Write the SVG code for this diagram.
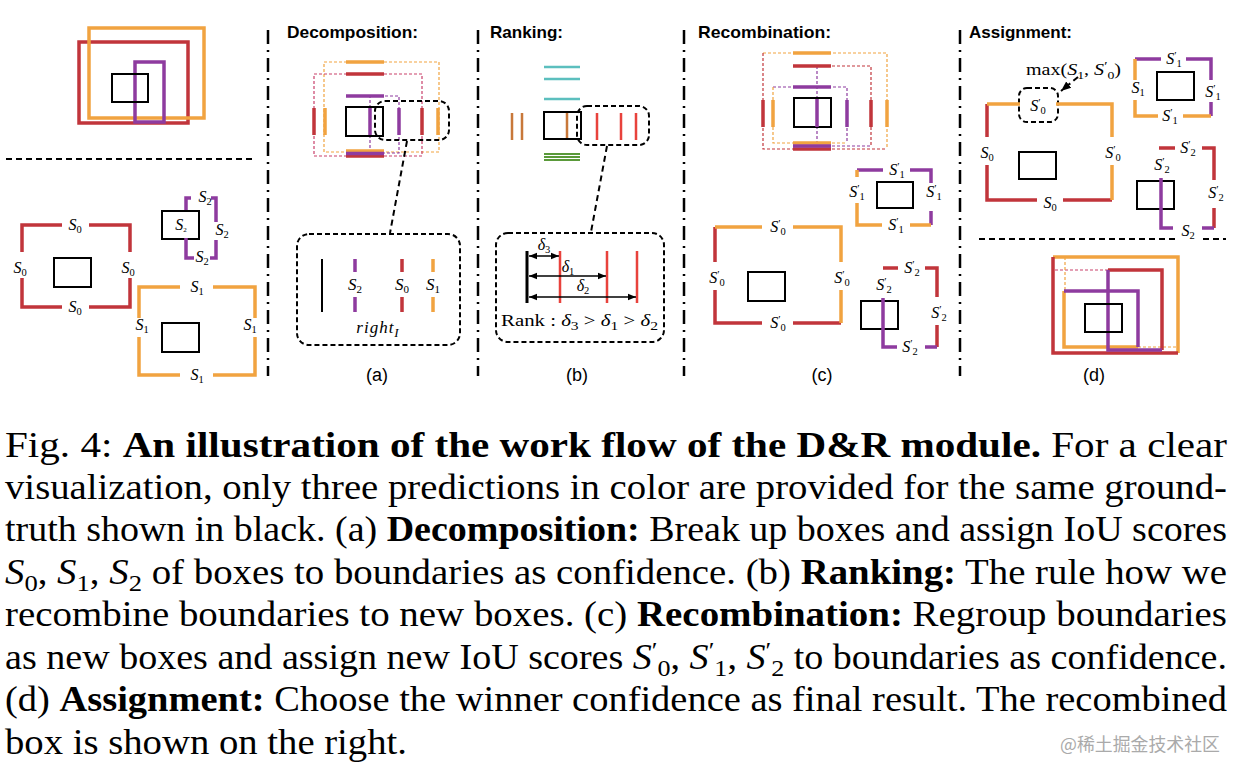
<svg xmlns="http://www.w3.org/2000/svg" width="1240" height="776" viewBox="0 0 1240 776">
<style>
.s{fill:none;stroke-width:3.5;stroke-linecap:butt;stroke-linejoin:miter}
.r{stroke:#c1353b}.o{stroke:#f1a340}.p{stroke:#8e3b9f}
.gt{fill:none;stroke:#000;stroke-width:2}
.dl{fill:none;stroke-width:1.2;stroke-dasharray:3 2}
.pk{stroke:#c9406a}
.co{fill:none;stroke:#000;stroke-width:2;stroke-dasharray:5 3}
.sep{fill:none;stroke:#000;stroke-width:2.5;stroke-dasharray:14 6 2 6}
.hd{fill:none;stroke:#000;stroke-width:2;stroke-dasharray:6 4}
.lb{font-family:"Liberation Serif",serif;font-size:16px;fill:#000}
.lb2{font-family:"Liberation Serif",serif;font-size:17px;fill:#000}
.i{font-style:italic}
.n{font-style:normal}
.sb{font-size:10.5px}
.sb2{font-size:11px}
.sp{font-size:11px}
.ti{font-family:"Liberation Sans",Arial,sans-serif;font-weight:bold;font-size:17px;fill:#000}
.pl{font-family:"Liberation Sans",Arial,sans-serif;font-size:18px;fill:#000}
.cap{font-family:"Liberation Serif",serif;font-size:35px;fill:#000}
.b{font-weight:bold}
.cs{font-size:24px}
.tl{stroke:#5cbfbe;stroke-width:2.5}
.br{stroke:#c8783a;stroke-width:2.5}
.rd{stroke:#e8423c;stroke-width:2.5}
.gn{stroke:#5a9a3a;stroke-width:2}
.ar{stroke:#000;stroke-width:1.5;marker-start:url(#ah);marker-end:url(#ah)}
</style>
<defs>
<marker id="ah" viewBox="0 0 10 10" refX="10" refY="5" markerWidth="8" markerHeight="8" markerUnits="userSpaceOnUse" orient="auto-start-reverse"><path d="M0,1 L10,5 L0,9 z" fill="#000"/></marker>
<marker id="ah2" viewBox="0 0 10 10" refX="10" refY="5" markerWidth="10" markerHeight="10" markerUnits="userSpaceOnUse" orient="auto"><path d="M0,1 L10,5 L0,9 z" fill="#000"/></marker>
</defs>
<rect width="1240" height="776" fill="#fff"/>

<g id="separators">
<line class="sep" x1="268" y1="30" x2="268" y2="376"/>
<line class="sep" x1="478" y1="30" x2="478" y2="376"/>
<line class="sep" x1="684" y1="30" x2="684" y2="376"/>
<line class="sep" x1="960" y1="30" x2="960" y2="376"/>
<line class="hd" x1="6" y1="159" x2="252" y2="159"/>
<path class="hd" d="M979 239 H1175 M1203 239 H1226"/>
</g>

<g id="input-boxes">
<rect class="s r" x="79" y="42" width="109" height="81"/>
<rect class="s o" x="89" y="28" width="115" height="90"/>
<rect class="s p" x="135" y="62" width="29" height="60"/>
<rect class="gt" x="112" y="74" width="36" height="28"/>
</g>

<g id="box-s0">
<rect class="gt" x="54" y="258" width="37" height="29"/>
<path class="s r" d="M62 225 H22 V252 M89 225 H130 V252 M22 278 V307 H62 M89 307 H130 V278"/>
<text class="lb" x="75" y="230" text-anchor="middle"><tspan class="i">S</tspan><tspan class="sb" dy="3">0</tspan></text>
<text class="lb" x="20" y="273" text-anchor="middle"><tspan class="i">S</tspan><tspan class="sb" dy="3">0</tspan></text>
<text class="lb" x="128" y="273" text-anchor="middle"><tspan class="i">S</tspan><tspan class="sb" dy="3">0</tspan></text>
<text class="lb" x="75" y="312" text-anchor="middle"><tspan class="i">S</tspan><tspan class="sb" dy="3">0</tspan></text>
</g>

<g id="box-s2">
<rect class="gt" x="162" y="211" width="37" height="28"/>
<path class="s p" d="M191 198 H186 V210 M211 198 H216 V222 M216 240 V258 H210 M194 258 H186 V238"/>
<text class="lb" x="205" y="202" text-anchor="middle"><tspan class="i">S</tspan><tspan class="sb" dy="3">2</tspan></text>
<text class="lb" x="222" y="235" text-anchor="middle"><tspan class="i">S</tspan><tspan class="sb" dy="3">2</tspan></text>
<text class="lb" x="202" y="262" text-anchor="middle"><tspan class="i">S</tspan><tspan class="sb" dy="3">2</tspan></text>
<text class="lb" x="181" y="230" text-anchor="middle" font-size="10"><tspan class="i">S</tspan><tspan font-size="7" dy="2">2</tspan></text>
</g>

<g id="box-s1">
<rect class="gt" x="162" y="323" width="37" height="29"/>
<path class="s o" d="M180 287 H139 V318 M213 287 H255 V318 M139 337 V375 H180 M213 375 H255 V337"/>
<text class="lb" x="197" y="292" text-anchor="middle"><tspan class="i">S</tspan><tspan class="sb" dy="3">1</tspan></text>
<text class="lb" x="142" y="330" text-anchor="middle"><tspan class="i">S</tspan><tspan class="sb" dy="3">1</tspan></text>
<text class="lb" x="250" y="330" text-anchor="middle"><tspan class="i">S</tspan><tspan class="sb" dy="3">1</tspan></text>
<text class="lb" x="197" y="380" text-anchor="middle"><tspan class="i">S</tspan><tspan class="sb" dy="3">1</tspan></text>
</g>

<g id="decomposition">
<text class="ti" x="287" y="38" textLength="131" lengthAdjust="spacingAndGlyphs">Decomposition:</text>
<rect class="dl o" x="324" y="62" width="115" height="90"/>
<rect class="dl pk" x="314" y="74" width="108" height="82"/>
<rect class="dl p" x="370" y="96" width="29" height="57"/>
<path class="s o" d="M346 62 H384 M346 151 H384 M325 108 V135 M438 108 V135" stroke-width="3"/>
<path class="s r" d="M346 74 H384 M346 156 H384 M314 108 V135 M422 108 V135" stroke-width="3"/>
<path class="s p" d="M346 96 H384 M346 153.5 H384 M370 108 V135 M399 108 V135" stroke-width="3"/>
<rect class="gt" x="346" y="107" width="37" height="29"/>
<rect class="co" x="375" y="101" width="74" height="39" rx="10"/>
</g>

<g id="decomposition-detail">
<rect class="co" x="297" y="234" width="163" height="111" rx="12"/>
<line x1="322" y1="259" x2="322" y2="312" stroke="#000" stroke-width="2"/>
<path class="s p" d="M355 259 V272 M355 297 V312" stroke-width="2.5"/>
<path class="s r" d="M402 259 V272 M402 297 V312" stroke-width="2.5"/>
<path class="s o" d="M433 259 V272 M433 297 V312" stroke-width="2.5"/>
<text class="lb2" x="355" y="290" text-anchor="middle"><tspan class="i">S</tspan><tspan class="sb2" dy="3">2</tspan></text>
<text class="lb2" x="402" y="290" text-anchor="middle"><tspan class="i">S</tspan><tspan class="sb2" dy="3">0</tspan></text>
<text class="lb2" x="433" y="290" text-anchor="middle"><tspan class="i">S</tspan><tspan class="sb2" dy="3">1</tspan></text>
<text class="lb2" x="378" y="333" text-anchor="middle" font-size="20" letter-spacing="1"><tspan class="i">right</tspan><tspan class="i" font-size="13" dy="4">I</tspan></text>
<text class="pl" x="377" y="381" text-anchor="middle">(a)</text>
</g>

<g id="ranking">
<text class="ti" x="490" y="38" textLength="73" lengthAdjust="spacingAndGlyphs">Ranking:</text>
<path class="tl" d="M544 67 H580 M544 79 H580 M544 99 H580"/>
<path class="br" d="M512 113 V140 M522 113 V140 M567 113 V140"/>
<rect class="gt" x="544" y="112" width="37" height="27"/>
<path class="rd" d="M597 113 V140 M621 113 V140 M636 113 V140"/>
<path class="gn" d="M544 154 H580 M544 157 H580 M544 160 H580"/>
<rect class="co" x="577" y="106" width="72" height="39" rx="10"/>
</g>

<g id="ranking-detail">
<rect class="co" x="496" y="233" width="168" height="109" rx="12"/>
<line x1="527" y1="251" x2="527" y2="303" stroke="#000" stroke-width="3"/>
<path class="rd" d="M560 251 V303 M607 251 V303 M637 251 V303"/>
<line class="ar" x1="529" y1="256" x2="559" y2="256"/>
<line class="ar" x1="529" y1="276" x2="606" y2="276"/>
<line class="ar" x1="529" y1="297" x2="636" y2="297"/>
<text class="lb i" x="544" y="250" text-anchor="middle">δ<tspan class="sb n" dy="3">3</tspan></text>
<text class="lb i" x="568" y="272" text-anchor="middle">δ<tspan class="sb n" dy="3">1</tspan></text>
<text class="lb i" x="583" y="291" text-anchor="middle">δ<tspan class="sb n" dy="3">2</tspan></text>
<text class="lb" x="501" y="326" font-size="18" textLength="157" lengthAdjust="spacingAndGlyphs">Rank : <tspan class="i">δ</tspan><tspan font-size="12" dy="4">3</tspan><tspan dy="-4"> &gt; </tspan><tspan class="i">δ</tspan><tspan font-size="12" dy="4">1</tspan><tspan dy="-4"> &gt; </tspan><tspan class="i">δ</tspan><tspan font-size="12" dy="4">2</tspan></text>
<text class="pl" x="577" y="381" text-anchor="middle">(b)</text>
</g>

<g id="recombination">
<text class="ti" x="698" y="38" textLength="133" lengthAdjust="spacingAndGlyphs">Recombination:</text>
<path class="dl o" d="M763 53 H887 V149"/>
<path class="dl r" d="M763 53 V149 H887"/>
<path class="dl p" d="M773 87 H847 V143"/>
<path class="dl o" d="M773 87 V143 H847"/>
<path class="dl r" d="M817 66 H871 V146"/>
<path class="dl p" d="M817 66 V146 H871"/>
<path class="s o" d="M793 53 H831 M793 143 H831 M773 100 V127 M887 100 V127" stroke-width="3"/>
<path class="s r" d="M793 66 H831 M793 149 H831 M763 100 V127 M871 100 V127" stroke-width="3"/>
<path class="s p" d="M793 87 H831 M793 146 H831 M847 100 V127" stroke-width="3"/>
<rect class="gt" x="794" y="98" width="37" height="29"/>
<path class="s p" d="M817 99 V127" stroke-width="2.5"/>
</g>

<g id="box-s1-prime">
<rect class="gt" x="877" y="182" width="36" height="26"/>
<path class="s p" d="M857 170 H883 M910 170 H931 V183 M931 211 V225"/>
<path class="s o" d="M857 170 V177 M857 203 V225 H882 M910 225 H931"/>
<text class="lb" x="897" y="175" text-anchor="middle"><tspan class="i">S</tspan><tspan class="sp" dy="-5">′</tspan><tspan class="sb" dy="8">1</tspan></text>
<text class="lb" x="857" y="197" text-anchor="middle"><tspan class="i">S</tspan><tspan class="sp" dy="-5">′</tspan><tspan class="sb" dy="8">1</tspan></text>
<text class="lb" x="934" y="197" text-anchor="middle"><tspan class="i">S</tspan><tspan class="sp" dy="-5">′</tspan><tspan class="sb" dy="8">1</tspan></text>
<text class="lb" x="896" y="230" text-anchor="middle"><tspan class="i">S</tspan><tspan class="sp" dy="-5">′</tspan><tspan class="sb" dy="8">1</tspan></text>
</g>

<g id="box-s0-prime">
<rect class="gt" x="748" y="272" width="37" height="29"/>
<path class="s r" d="M715 262 V227 M715 290 V323 H762 M793 323 H841"/>
<path class="s o" d="M715 227 H762 M793 227 H841 V262 M841 290 V323"/>
<text class="lb" x="778" y="232" text-anchor="middle"><tspan class="i">S</tspan><tspan class="sp" dy="-5">′</tspan><tspan class="sb" dy="8">0</tspan></text>
<text class="lb" x="717" y="283" text-anchor="middle"><tspan class="i">S</tspan><tspan class="sp" dy="-5">′</tspan><tspan class="sb" dy="8">0</tspan></text>
<text class="lb" x="842" y="283" text-anchor="middle"><tspan class="i">S</tspan><tspan class="sp" dy="-5">′</tspan><tspan class="sb" dy="8">0</tspan></text>
<text class="lb" x="778" y="328" text-anchor="middle"><tspan class="i">S</tspan><tspan class="sp" dy="-5">′</tspan><tspan class="sb" dy="8">0</tspan></text>
</g>

<g id="box-s2-prime">
<rect class="gt" x="861" y="301" width="37" height="28"/>
<path class="s r" d="M883 268 H898 M925 268 H937 V297 M937 325 V347"/>
<path class="s p" d="M883 298 V347 H897 M925 347 H937"/>
<text class="lb" x="912" y="273" text-anchor="middle"><tspan class="i">S</tspan><tspan class="sp" dy="-5">′</tspan><tspan class="sb" dy="8">2</tspan></text>
<text class="lb" x="884" y="290" text-anchor="middle"><tspan class="i">S</tspan><tspan class="sp" dy="-5">′</tspan><tspan class="sb" dy="8">2</tspan></text>
<text class="lb" x="939" y="318" text-anchor="middle"><tspan class="i">S</tspan><tspan class="sp" dy="-5">′</tspan><tspan class="sb" dy="8">2</tspan></text>
<text class="lb" x="910" y="352" text-anchor="middle"><tspan class="i">S</tspan><tspan class="sp" dy="-5">′</tspan><tspan class="sb" dy="8">2</tspan></text>
<text class="pl" x="822" y="381" text-anchor="middle">(c)</text>
</g>

<g id="assignment">
<text class="ti" x="969" y="38" textLength="103" lengthAdjust="spacingAndGlyphs">Assignment:</text>
<text class="lb" x="1026" y="75" font-size="17" textLength="95" lengthAdjust="spacingAndGlyphs">max(<tspan class="i">S</tspan><tspan font-size="11" dy="4">1</tspan><tspan dy="-4">, </tspan><tspan class="i">S</tspan><tspan font-size="12" dy="-5">′</tspan><tspan font-size="11" dy="9">0</tspan><tspan dy="-4">)</tspan></text>
<rect class="co" x="1019" y="88" width="39" height="34" rx="8"/>
</g>

<g id="final-s0-prime">
<rect class="gt" x="1019" y="152" width="37" height="27"/>
<path class="s r" d="M987 137 V104 M987 165 V200 H1037 M1063 200 H1112"/>
<path class="s o" d="M987 104 H1020 M1056 104 H1112 V137 M1112 165 V200"/>
<text class="lb" x="1038" y="111" text-anchor="middle"><tspan class="i">S</tspan><tspan class="sp" dy="-5">′</tspan><tspan class="sb" dy="8">0</tspan></text>
<text class="lb" x="987" y="158" text-anchor="middle"><tspan class="i">S</tspan><tspan class="sb" dy="3">0</tspan></text>
<text class="lb" x="1113" y="158" text-anchor="middle"><tspan class="i">S</tspan><tspan class="sp" dy="-5">′</tspan><tspan class="sb" dy="8">0</tspan></text>
<text class="lb" x="1050" y="208" text-anchor="middle"><tspan class="i">S</tspan><tspan class="sb" dy="3">0</tspan></text>
</g>

<g id="final-s1-prime">
<rect class="gt" x="1157" y="72" width="37" height="28"/>
<path class="s p" d="M1135 59 H1161 M1186 59 H1211 V80 M1211 102 V116"/>
<path class="s o" d="M1135 80 V59 M1135 100 V116 H1158 M1183 116 H1211"/>
<text class="lb" x="1174" y="64" text-anchor="middle"><tspan class="i">S</tspan><tspan class="sp" dy="-5">′</tspan><tspan class="sb" dy="8">1</tspan></text>
<text class="lb" x="1138" y="93" text-anchor="middle"><tspan class="i">S</tspan><tspan class="sb" dy="3">1</tspan></text>
<text class="lb" x="1213" y="97" text-anchor="middle"><tspan class="i">S</tspan><tspan class="sp" dy="-5">′</tspan><tspan class="sb" dy="8">1</tspan></text>
<text class="lb" x="1170" y="121" text-anchor="middle"><tspan class="i">S</tspan><tspan class="sp" dy="-5">′</tspan><tspan class="sb" dy="8">1</tspan></text>
</g>

<g id="final-s2-prime">
<rect class="gt" x="1137" y="181" width="37" height="28"/>
<path class="s r" d="M1159 148 H1175 M1202 148 H1214 V180 M1214 208 V228"/>
<path class="s p" d="M1161 178 V228 H1173 M1202 228 H1214"/>
<text class="lb" x="1188" y="153" text-anchor="middle"><tspan class="i">S</tspan><tspan class="sp" dy="-5">′</tspan><tspan class="sb" dy="8">2</tspan></text>
<text class="lb" x="1162" y="170" text-anchor="middle"><tspan class="i">S</tspan><tspan class="sp" dy="-5">′</tspan><tspan class="sb" dy="8">2</tspan></text>
<text class="lb" x="1216" y="198" text-anchor="middle"><tspan class="i">S</tspan><tspan class="sp" dy="-5">′</tspan><tspan class="sb" dy="8">2</tspan></text>
<text class="lb" x="1188" y="236" text-anchor="middle"><tspan class="i">S</tspan><tspan class="sb" dy="3">2</tspan></text>
</g>

<g id="recombined-result">
<path class="dl pk" d="M1055 270 H1108"/>
<path class="dl o" d="M1065 257 V291 M1138 347 H1178"/>
<path class="s o" d="M1053 257 H1178 V353"/>
<path class="s r" d="M1053 257 V353 H1178"/>
<path class="s r" d="M1108 270 H1162 V350"/>
<path class="s o" d="M1064 291 V347 H1138"/>
<path class="s p" d="M1108 270 V350 H1162"/>
<path class="s p" d="M1064 291 H1138 V347"/>
<rect class="gt" x="1085" y="304" width="37" height="28"/>
<text class="pl" x="1094" y="381" text-anchor="middle">(d)</text>
</g>

<g id="connectors">
<line class="hd" x1="407" y1="141" x2="390" y2="233"/>
<line class="hd" x1="607" y1="146" x2="591" y2="232"/>
<line class="hd" x1="1078" y1="77" x2="1061" y2="91" marker-end="url(#ah2)" stroke-dasharray="4 3"/>
</g>

<g id="caption">
<text class="cap" x="5" y="457" textLength="1222" lengthAdjust="spacingAndGlyphs">Fig. 4: <tspan class="b">An illustration of the work flow of the D&amp;R module.</tspan> For a clear</text>
<text class="cap" x="5" y="499" textLength="1222" lengthAdjust="spacingAndGlyphs">visualization, only three predictions in color are provided for the same ground-</text>
<text class="cap" x="5" y="541" textLength="1222" lengthAdjust="spacingAndGlyphs">truth shown in black. (a) <tspan class="b">Decomposition:</tspan> Break up boxes and assign IoU scores</text>
<text class="cap" x="5" y="584" textLength="1222" lengthAdjust="spacingAndGlyphs"><tspan class="i">S</tspan><tspan class="cs" dy="7">0</tspan><tspan dy="-7">, </tspan><tspan class="i">S</tspan><tspan class="cs" dy="7">1</tspan><tspan dy="-7">, </tspan><tspan class="i">S</tspan><tspan class="cs" dy="7">2</tspan><tspan dy="-7"> of boxes to boundaries as confidence. (b) </tspan><tspan class="b">Ranking:</tspan> The rule how we</text>
<text class="cap" x="5" y="626" textLength="1222" lengthAdjust="spacingAndGlyphs">recombine boundaries to new boxes. (c) <tspan class="b">Recombination:</tspan> Regroup boundaries</text>
<text class="cap" x="5" y="669" textLength="1222" lengthAdjust="spacingAndGlyphs">as new boxes and assign new IoU scores <tspan class="i">S</tspan><tspan class="cs" dy="-11">′</tspan><tspan class="cs" dy="18">0</tspan><tspan dy="-7">, </tspan><tspan class="i">S</tspan><tspan class="cs" dy="-11">′</tspan><tspan class="cs" dy="18">1</tspan><tspan dy="-7">, </tspan><tspan class="i">S</tspan><tspan class="cs" dy="-11">′</tspan><tspan class="cs" dy="18">2</tspan><tspan dy="-7"> to boundaries as confidence.</tspan></text>
<text class="cap" x="5" y="711" textLength="1222" lengthAdjust="spacingAndGlyphs">(d) <tspan class="b">Assignment:</tspan> Choose the winner confidence as final result. The recombined</text>
<text class="cap" x="5" y="754" textLength="402" lengthAdjust="spacingAndGlyphs">box is shown on the right.</text>
<text x="1060" y="751" font-family="'Noto Sans CJK SC',sans-serif" font-size="18" fill="#aaaaaa" textLength="160" lengthAdjust="spacingAndGlyphs">@稀土掘金技术社区</text>
</g>
</svg>
